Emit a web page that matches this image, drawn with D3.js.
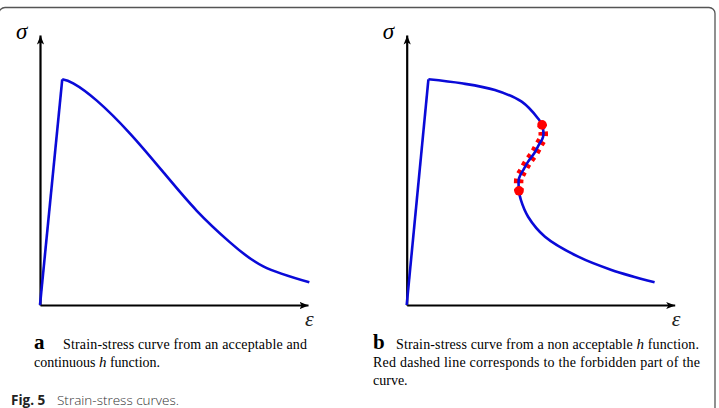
<!DOCTYPE html>
<html>
<head>
<meta charset="utf-8">
<script src="https://cdnjs.cloudflare.com/ajax/libs/d3/7.8.5/d3.min.js"></script>
<style>
    body { margin: 0; background: #fff; }
    svg { display: block; }
</style>
</head>
<body>
<div id="chart"></div>
<script>
// Panel a : acceptable and continuous h function
var strainA = [0, 0.83, 1.24, 2.12, 3.36, 4.60, 5.85, 7.09, 8.33, 10.05];
var stressA = [0, 8.36, 8.21, 7.57, 6.35, 4.92, 3.49, 2.32, 1.43, 0.84];

// Panel b : non acceptable h function (curve folds back)
var strainB = [0, 0.81, 2.05, 3.29, 4.29, 4.90, 5.05, 5.09, 4.93, 4.76, 4.53, 4.35, 4.19, 4.19, 4.26, 4.53, 5.16, 6.40, 7.64, 9.25];
var stressB = [0, 8.36, 8.21, 7.96, 7.53, 6.91, 6.67, 6.23, 5.93, 5.62, 5.31, 5.00, 4.69, 4.23, 3.89, 3.27, 2.53, 1.79, 1.30, 0.84];
// first / last index of the forbidden part of curve b
var forbiddenB = [6, 13];

var axisMax = 10;
var yLabel = "σ";
var xLabel = "ε";

var captionA = ["Strain-stress curve from an acceptable and", "continuous ", "h", " function."];
var captionB = ["Strain-stress curve from a non acceptable ", "h", " function.",
    "Red dashed line corresponds to the forbidden part of the", "curve."];
var figLabel = "Fig. 5";
var figTitle = "Strain-stress curves.";

var blue = "#0a0ad8";
var red = "#ff0000";
var serif = "'Liberation Serif', 'Times New Roman', serif";

var svg = d3.select("#chart").append("svg").attr("width", 719).attr("height", 408);

// figure frame (bottom runs off the picture)
svg.append("rect")
    .attr("x", -1).attr("y", 7.5)
    .attr("width", 716).attr("height", 460)
    .attr("rx", 6)
    .attr("fill", "none").attr("stroke", "#555").attr("stroke-width", 1.3);

// arrow head for the axes
svg.append("defs").append("marker")
    .attr("id", "arrow")
    .attr("viewBox", "0 -5 10 10")
    .attr("refX", 9).attr("refY", 0)
    .attr("markerWidth", 10).attr("markerHeight", 10)
    .attr("markerUnits", "userSpaceOnUse")
    .attr("orient", "auto")
    .append("path")
    .attr("d", "M0,-3.6L9,0L0,3.6L2.2,0Z")
    .attr("fill", "#000");

function drawPanel(originX, strain, stress, forbidden) {
    var x = d3.scaleLinear().domain([0, axisMax]).range([originX, originX + 268]);
    var y = d3.scaleLinear().domain([0, axisMax]).range([305, 35]);

    var g = svg.append("g");

    // axes without ticks, just arrows
    var xAxis = g.append("g")
        .attr("transform", "translate(0," + y(0) + ")")
        .call(d3.axisBottom(x).ticks(0).tickSizeOuter(0));
    var yAxis = g.append("g")
        .attr("transform", "translate(" + x(0) + ",0)")
        .call(d3.axisLeft(y).ticks(0).tickSizeOuter(0));
    [xAxis, yAxis].forEach(function (a) {
        a.select(".domain")
            .attr("stroke", "#000")
            .attr("stroke-width", 2.2)
            .attr("marker-end", "url(#arrow)");
    });

    var pts = strain.map((s, i) => [s, stress[i]]);

    var straight = d3.line().x(d => x(d[0])).y(d => y(d[1]));
    // curve b folds back, so it can't use a spline in x
    var smooth = d3.line().x(d => x(d[0])).y(d => y(d[1]))
        .curve(forbidden ? d3.curveCatmullRom.alpha(0.5) : d3.curveNatural);

    // forbidden part : thick red dashes under the blue curve
    if (forbidden) {
        g.append("path")
            .datum(pts.slice(forbidden[0], forbidden[1] + 1))
            .attr("d", smooth)
            .attr("fill", "none")
            .attr("stroke", red)
            .attr("stroke-width", 9.5)
            .attr("stroke-dasharray", "4,5")
            .attr("stroke-dashoffset", -7);
    }

    // elastic part
    g.append("path")
        .datum(pts.slice(0, 2))
        .attr("d", straight)
        .attr("fill", "none").attr("stroke", blue).attr("stroke-width", 2.6);

    // softening part
    g.append("path")
        .datum(pts.slice(1))
        .attr("d", smooth)
        .attr("fill", "none").attr("stroke", blue).attr("stroke-width", 2.6)
        .attr("stroke-linejoin", "round");

    if (forbidden) {
        g.selectAll(".end")
            .data([pts[forbidden[0]], pts[forbidden[1]]])
            .enter().append("circle")
            .attr("class", "end")
            .attr("cx", d => x(d[0]))
            .attr("cy", d => y(d[1]))
            .attr("r", 4.8)
            .attr("fill", red);
    }

    // axis names
    g.append("text")
        .attr("x", x(0) - 24).attr("y", 39)
        .attr("font-family", serif)
        .attr("font-style", "italic")
        .attr("font-size", 23)
        .text(yLabel);
    g.append("text")
        .attr("x", x(axisMax) - 3).attr("y", 326)
        .attr("font-family", serif)
        .attr("font-style", "italic")
        .attr("font-size", 22)
        .attr("fill", "#222")
        .text(xLabel);
}

drawPanel(40, strainA, stressA, null);
drawPanel(406.7, strainB, stressB, forbiddenB);

// sub captions
var cap = svg.append("g")
    .attr("font-family", serif)
    .attr("font-size", 14)
    .attr("fill", "#000");

cap.append("text").attr("x", 34).attr("y", 349)
    .attr("font-size", 21).attr("font-weight", "bold").text("a");
cap.append("text").attr("x", 63).attr("y", 349)
    .attr("textLength", 244).attr("lengthAdjust", "spacing")
    .text(captionA[0]);
var a2 = cap.append("text").attr("x", 34).attr("y", 367);
a2.append("tspan").text(captionA[1]);
a2.append("tspan").attr("font-style", "italic").attr("font-size", 15).text(captionA[2]);
a2.append("tspan").text(captionA[3]);

cap.append("text").attr("x", 373).attr("y", 349)
    .attr("font-size", 21).attr("font-weight", "bold").text("b");
var b1 = cap.append("text").attr("x", 396).attr("y", 349)
    .attr("textLength", 303).attr("lengthAdjust", "spacing");
b1.append("tspan").text(captionB[0]);
b1.append("tspan").attr("font-style", "italic").attr("font-size", 15).text(captionB[1]);
b1.append("tspan").text(captionB[2]);
cap.append("text").attr("x", 373).attr("y", 367)
    .attr("textLength", 327).attr("lengthAdjust", "spacing")
    .text(captionB[3]);
cap.append("text").attr("x", 373).attr("y", 384.5).text(captionB[4]);

// figure caption
var fig = svg.append("text")
    .attr("x", 11).attr("y", 404.5)
    .attr("font-family", "'Open Sans', sans-serif")
    .attr("font-size", 13.5)
    .attr("fill", "#333");
fig.append("tspan").attr("font-weight", "bold").attr("fill", "#222").text(figLabel);
fig.append("tspan").attr("x", 57).attr("font-weight", 300).text(figTitle);
</script>
</body>
</html>
